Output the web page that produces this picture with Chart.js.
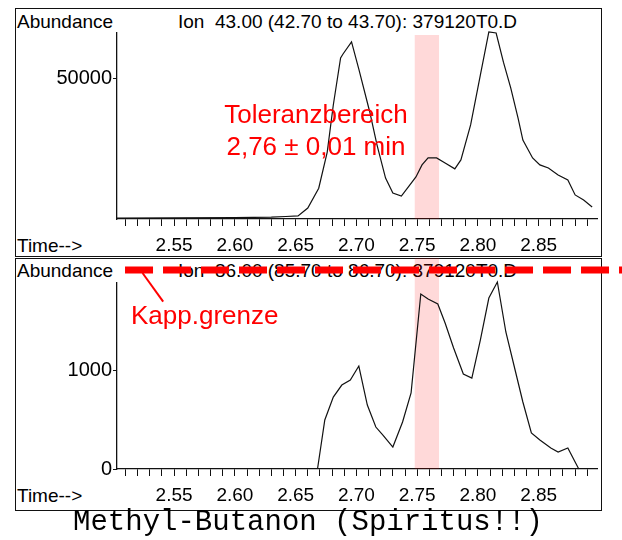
<!DOCTYPE html>
<html lang="de">
<head>
    <meta charset="UTF-8">
    <title>Methyl-Butanon (Spiritus!!)</title>
    <script src="https://cdn.jsdelivr.net/npm/chart.js"></script>
    <style>
        body { margin: 0; background: #fff; }
        .page { position: relative; width: 622px; height: 540px; overflow: hidden;
                font-family: "Liberation Sans", Arial, sans-serif; color: #000; }
        .panel { position: absolute; left: 15px; width: 587px; border: 1px solid #111; box-sizing: border-box; z-index: 0; }
        .hdr { position: absolute; font-size: 19px; line-height: 1; white-space: pre; z-index: 0; }
        canvas { position: absolute; left: 0; z-index: 1; }
        .red { position: absolute; color: #ff0000; font-size: 26px; line-height: 1; white-space: pre; z-index: 3; }
        .title { position: absolute; left: 0; width: 616px; top: 508px; text-align: center;
                 font-family: "Liberation Mono", "Courier New", monospace; font-size: 29px; line-height: 1; z-index: 3; }
    </style>
</head>
<body>
<div class="page">
    <div class="panel" style="top: 8px; height: 249px;"></div>
    <div class="panel" style="top: 258px; height: 253px;"></div>

    <div class="hdr" style="left: 17px; top: 12px;">Abundance</div>
    <div class="hdr" style="left: 178px; top: 12px;">Ion  43.00 (42.70 to 43.70): 379120T0.D</div>
    <div class="hdr" style="left: 17px; top: 236px;">Time--&gt;</div>

    <div class="hdr" style="left: 17px; top: 261px;">Abundance</div>
    <div class="hdr" style="left: 178px; top: 261px;">Ion  86.00 (85.70 to 86.70): 379120T0.D</div>
    <div class="hdr" style="left: 17px; top: 486px;">Time--&gt;</div>

    <canvas id="ion43" width="622" height="258" style="top: 0;"></canvas>
    <canvas id="ion86" width="622" height="258" style="top: 258px;"></canvas>

    <div class="red" style="left: 0; width: 632px; text-align: center; top: 101px;">Toleranzbereich</div>
    <div class="red" style="left: 0; width: 632px; text-align: center; top: 133px;">2,76 ± 0,01 min</div>
    <div class="red" style="left: 131px; top: 302px;">Kapp.grenze</div>

    <div class="title">Methyl-Butanon (Spiritus!!)</div>
</div>

<script>
// retention time (min) and abundance
const time43 = [2.503, 2.55, 2.60, 2.63, 2.642, 2.652, 2.660, 2.669, 2.676, 2.681,
                2.687, 2.689, 2.696, 2.702, 2.711, 2.717, 2.724, 2.730, 2.737, 2.742,
                2.749, 2.754, 2.759, 2.766, 2.773, 2.781, 2.786, 2.794, 2.802, 2.809,
                2.815, 2.821, 2.827, 2.833, 2.837, 2.845, 2.851, 2.858, 2.866, 2.874,
                2.880, 2.887, 2.894];
const abund43 = [300, 400, 500, 700, 900, 1100, 3900, 11000, 23900, 40700,
                 57500, 58900, 63200, 53500, 38200, 26400, 14600, 9300, 8200, 11000,
                 15000, 19300, 21800, 21800, 20000, 17900, 21100, 33600, 51400, 66800,
                 66400, 56000, 46800, 36100, 28200, 21800, 19300, 18200, 15700, 13900,
                 8600, 6800, 4300];

const time86 = [2.668, 2.674, 2.681, 2.688, 2.695, 2.702, 2.709, 2.716, 2.722, 2.730,
                2.738, 2.745, 2.753, 2.759, 2.767, 2.773, 2.780, 2.788, 2.795, 2.802,
                2.809, 2.816, 2.823, 2.831, 2.837, 2.844, 2.851, 2.860, 2.866, 2.874,
                2.883];
const abund86 = [0, 495, 727, 848, 899, 1040, 646, 424, 340, 222,
                 475, 768, 1768, 1717, 1667, 1475, 1222, 960, 919, 1303,
                 1727, 1889, 1384, 980, 677, 364, 293, 212, 172, 212,
                 0];

const timeTicks = [2.51, 2.52, 2.53, 2.54, 2.55, 2.56, 2.57, 2.58, 2.59, 2.60,
                   2.61, 2.62, 2.63, 2.64, 2.65, 2.66, 2.67, 2.68, 2.69, 2.70,
                   2.71, 2.72, 2.73, 2.74, 2.75, 2.76, 2.77, 2.78, 2.79, 2.80,
                   2.81, 2.82, 2.83, 2.84, 2.85, 2.86, 2.87, 2.88, 2.89];
const timeLabels = ['2.55', '2.60', '2.65', '2.70', '2.75', '2.80', '2.85'];
const ticks43 = [50000];
const ticks86 = [0, 1000];

const tolBand = [2.748, 2.768];   // 2,76 +/- 0,01 min
const kappLimit = 2010;           // abundance cut-off in the 86 trace

Chart.defaults.font.family = '"Liberation Sans", Arial, sans-serif';
Chart.defaults.color = '#000';

const marks = {
    id: 'marks',
    beforeDatasetsDraw(chart, args, opts) {
        const { ctx, chartArea, scales: { x } } = chart;
        const x0 = x.getPixelForValue(tolBand[0]);
        const x1 = x.getPixelForValue(tolBand[1]);
        const top = opts.bandFromTop ? 0 : chartArea.top + 2;
        ctx.save();
        ctx.fillStyle = 'rgba(255, 0, 0, 0.15)';
        ctx.fillRect(x0, top, x1 - x0, chartArea.bottom - top);
        ctx.restore();
    },
    afterDatasetsDraw(chart, args, opts) {
        if (opts.limit == null) return;
        const { ctx, scales: { x, y } } = chart;
        const yl = y.getPixelForValue(opts.limit);
        ctx.save();
        ctx.strokeStyle = '#ff0000';
        ctx.lineWidth = 7;
        ctx.setLineDash([28, 10]);
        ctx.beginPath();
        ctx.moveTo(x.getPixelForValue(2.5096), yl);
        ctx.lineTo(chart.width, yl);
        ctx.stroke();
        // leader to the label
        ctx.setLineDash([]);
        ctx.lineWidth = 2;
        ctx.beginPath();
        ctx.moveTo(x.getPixelForValue(2.524), yl + 3);
        ctx.lineTo(x.getPixelForValue(2.541), y.getPixelForValue(1690));
        ctx.stroke();
        ctx.restore();
    }
};

function traceChart(id, times, values, yMax, yTicks, padTop, xHeight, markOpts) {
    return new Chart(document.getElementById(id), {
        type: 'line',
        data: {
            datasets: [{
                data: times.map((t, i) => ({ x: t, y: values[i] })),
                borderColor: '#111',
                borderWidth: 1.2,
                pointRadius: 0,
                tension: 0,
                clip: false
            }]
        },
        options: {
            responsive: false,
            animation: false,
            layout: { padding: { top: padTop, right: 25, left: 0, bottom: 0 } },
            plugins: { legend: { display: false }, tooltip: { enabled: false }, marks: markOpts },
            scales: {
                x: {
                    type: 'linear',
                    min: 2.503,
                    max: 2.898,
                    afterBuildTicks: s => { s.ticks = timeTicks.map(v => ({ value: v })); },
                    afterFit: s => { s.height = xHeight; },
                    ticks: {
                        autoSkip: false,
                        maxRotation: 0,
                        padding: 8,
                        font: { size: 19 },
                        callback: v => timeLabels.find(l => l === Number(v).toFixed(2)) || ''
                    },
                    grid: { drawOnChartArea: false, tickLength: 7, color: '#111' },
                    border: { color: '#111', width: 1.3 }
                },
                y: {
                    min: 0,
                    max: yMax,
                    afterBuildTicks: s => { s.ticks = yTicks.map(v => ({ value: v })); },
                    afterFit: s => { s.width = 117; },
                    ticks: { padding: 1, font: { size: 20 }, callback: v => String(v) },
                    grid: { drawOnChartArea: false, tickLength: 4, color: '#111' },
                    border: { color: '#111', width: 1.3 }
                }
            }
        },
        plugins: [marks]
    });
}

traceChart('ion43', time43, abund43, 66400, ticks43, 33, 39, { bandFromTop: false });
traceChart('ion86', time86, abund86, 1879, ticks86, 25, 47, { bandFromTop: true, limit: kappLimit });
</script>
</body>
</html>
